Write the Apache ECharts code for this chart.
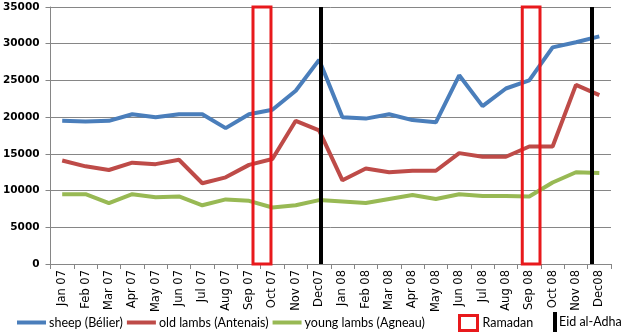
<!DOCTYPE html>
<html>
<head>
<meta charset="utf-8">
<script src="https://cdn.jsdelivr.net/npm/echarts@6/dist/echarts.min.js"></script>
<style>html,body{margin:0;padding:0;background:#fff}#c{width:630px;height:333px}</style>
</head>
<body>
<div id="c"></div>
<script>
var months = ['Jan 07','Feb 07','Mar 07','Apr 07','May 07','Jun 07','Jul 07','Aug 07','Sep 07','Oct 07','Nov 07','Dec07',
              'Jan 08','Feb 08','Mar 08','Apr 08','May 08','Jun 08','Jul 08','Aug 08','Sep 08','Oct 08','Nov 08','Dec08'];
var sheep = [19500,19400,19500,20400,20000,20400,20400,18500,20400,21000,23600,27800,
             20000,19800,20400,19600,19300,25700,21500,23900,25000,29500,30200,31000];
var oldLambs = [14100,13300,12800,13800,13600,14200,11000,11800,13500,14300,19500,18200,
                11400,13000,12500,12700,12700,15100,14600,14600,16000,16000,24400,23000];
var youngLambs = [9500,9500,8300,9500,9100,9200,8000,8800,8600,7700,8000,8700,
                  8500,8300,8850,9400,8850,9500,9250,9250,9200,11100,12500,12400];
// event positions on a 0..24 month scale (month index + fraction)
var ramadan = [[8.67, 9.44], [20.20, 20.96]];
var eid = [11.57, 23.19];

var chart = echarts.init(document.getElementById('c'), null, {renderer: 'canvas'});
var font = 'Lato';
var option = {
  animation: false,
  grid: {left: 49, right: 19, top: 7, bottom: 69, containLabel: false},
  legend: [
    {left: 12, top: 311, itemWidth: 29, itemHeight: 4, itemGap: 4, icon: 'rect',
     textStyle: {fontFamily: font, fontSize: 12.5, color: '#000', padding: [0,0,0,-2]},
     data: ['sheep (Bélier)', 'old lambs (Antenais)', 'young lambs (Agneau)']},
    {left: 453, top: 309, itemWidth: 18, itemHeight: 15, itemGap: 4,
     textStyle: {fontFamily: font, fontSize: 12.5, color: '#000'},
     data: [{name: 'Ramadan', icon: 'rect', itemStyle: {color: '#fff', borderColor: '#e8191c', borderWidth: 3}}]},
    {left: 548, top: 307, itemWidth: 4, itemHeight: 20, itemGap: 4,
     textStyle: {fontFamily: font, fontSize: 12.5, color: '#000', padding: [0,0,0,-3]},
     data: [{name: 'Eid al-Adha', icon: 'rect', itemStyle: {color: '#000'}}]}
  ],
  xAxis: [
    {type: 'category', data: months, boundaryGap: true,
     axisLine: {lineStyle: {color: '#868686', width: 1}},
     axisTick: {show: true, length: 5, lineStyle: {color: '#868686'}},
     axisLabel: {rotate: 90, fontFamily: 'DejaVu Sans', fontSize: 11.5, color: '#000', margin: 6, interval: 0}},
    {type: 'value', min: 0, max: 24, show: false}
  ],
  yAxis: {
    type: 'value', min: 0, max: 35000, interval: 5000,
    axisLine: {show: true, lineStyle: {color: '#868686'}},
    axisTick: {show: true, length: 5, lineStyle: {color: '#868686'}},
    splitLine: {lineStyle: {color: '#868686', width: 1}},
    axisLabel: {fontFamily: 'DejaVu Sans', fontWeight: 'bold', fontSize: 10.5, color: '#000', margin: 11,
                formatter: function (v) { return String(v); }}
  },
  series: [
    {name: 'sheep (Bélier)', type: 'line', data: sheep, symbol: 'none',
     itemStyle: {color: '#4a7ebb'}, lineStyle: {color: '#4a7ebb', width: 4}},
    {name: 'old lambs (Antenais)', type: 'line', data: oldLambs, symbol: 'none',
     itemStyle: {color: '#be4b48'}, lineStyle: {color: '#be4b48', width: 4}},
    {name: 'young lambs (Agneau)', type: 'line', data: youngLambs, symbol: 'none',
     itemStyle: {color: '#98b954'}, lineStyle: {color: '#98b954', width: 4}},
    {name: 'Ramadan', type: 'line', xAxisIndex: 1, data: [], symbol: 'none', z: 5,
     itemStyle: {color: '#e8191c'},
     markArea: {silent: true, z: 5,
       itemStyle: {color: 'rgba(0,0,0,0)', borderColor: '#e8191c', borderWidth: 3},
       label: {show: false},
       data: ramadan.map(function (r) { return [{xAxis: r[0]}, {xAxis: r[1]}]; })}},
    {name: 'Eid al-Adha', type: 'line', xAxisIndex: 1, data: [], symbol: 'none', z: 5,
     itemStyle: {color: '#000'},
     markLine: {silent: true, symbol: ['none', 'none'], label: {show: false},
       lineStyle: {color: '#000', width: 4, type: 'solid'},
       data: eid.map(function (v) { return {xAxis: v}; })}}
  ]
};
chart.setOption(option);
</script>
</body>
</html>
